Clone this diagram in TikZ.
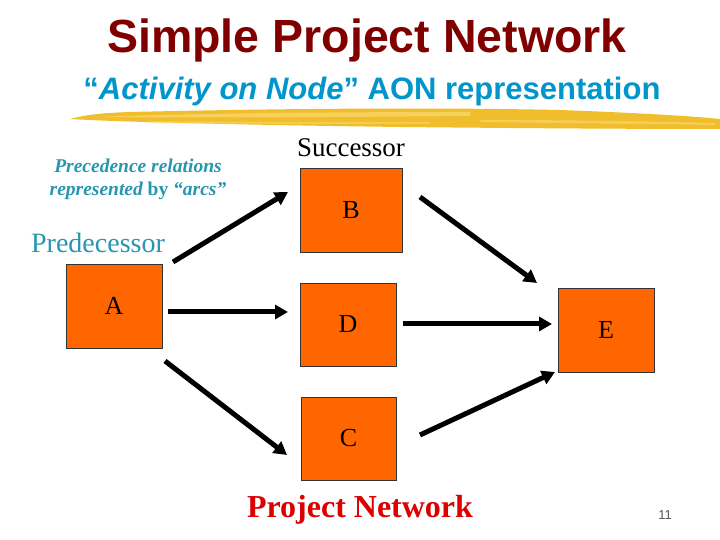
\documentclass[tikz,border=0pt]{standalone}
\usepackage{fontspec}
\setmainfont{Liberation Serif}
\newfontfamily\arialf{Liberation Sans}
\usetikzlibrary{arrows.meta}
\definecolor{titlered}{RGB}{128,0,0}
\definecolor{subblue}{RGB}{0,150,204}
\definecolor{tealtxt}{RGB}{40,150,176}
\definecolor{boxorange}{RGB}{255,102,0}
\definecolor{pnred}{RGB}{220,0,0}
\definecolor{brushy}{RGB}{240,190,45}
\definecolor{brushl}{RGB}{250,218,110}
\tikzset{
  actbox/.style={draw=black!80, line width=0.8pt, fill=boxorange, inner sep=0pt,
    font=\fontsize{26}{28}\selectfont},
  arc/.style={line width=5pt, -{Triangle[length=13pt,width=14pt]}},
}
\begin{document}
\begin{tikzpicture}[x=1pt,y=1pt]
\useasboundingbox (0,0) rectangle (720,540);
\fill[white] (0,0) rectangle (720,540);
% brush stroke
\fill[brushy] (70,421) .. controls (85,425) and (100,427) .. (130,428)
  .. controls (260,431) and (420,433) .. (560,430)
  .. controls (640,427) and (690,424) .. (720,421)
  -- (720,411) .. controls (620,411) and (500,412) .. (400,413)
  .. controls (250,415) and (120,418) .. (70,421) -- cycle;
\fill[brushl, opacity=0.7] (95,423) .. controls (200,427) and (350,428) .. (470,428)
  -- (470,424) .. controls (350,423) and (200,422) .. (95,423) -- cycle;
\fill[brushl, opacity=0.6] (480,420) .. controls (560,420) and (640,419) .. (715,417)
  -- (715,415) .. controls (640,416) and (560,417) .. (480,418) -- cycle;
\fill[brushl, opacity=0.5] (150,417) .. controls (250,416) and (350,416) .. (430,416)
  -- (430,418) .. controls (350,418) and (250,418) .. (150,419) -- cycle;
% titles
\node[font=\arialf\bfseries\fontsize{46.5}{50}\selectfont, text=titlered, anchor=base] (title) at (367,487) {Simple Project Network};
\node[font=\arialf\bfseries\fontsize{31}{34}\selectfont, text=subblue, anchor=base] (sub) at (372,440) {“\textit{Activity on Node}” AON representation};
% side texts
\node[font=\bfseries\fontsize{19.5}{23}\selectfont, text=tealtxt, align=center] (prec) at (138,361) {\itshape Precedence relations\\ \itshape represented \upshape by \itshape “arcs”};
\node[font=\fontsize{27}{30}\selectfont] (succ) at (351,392) {Successor};
\node[font=\fontsize{28}{30}\selectfont, text=tealtxt] (pred) at (98,297) {Predecessor};
% boxes
\node[actbox, minimum width=96pt, minimum height=84pt] (A) at (114,234) {A};
\node[actbox, minimum width=102pt, minimum height=84pt] (B) at (351,330) {B};
\node[actbox, minimum width=96pt, minimum height=83pt] (D) at (348,215.5) {D};
\node[actbox, minimum width=95pt, minimum height=83pt] (C) at (348.5,101.5) {C};
\node[actbox, minimum width=96pt, minimum height=84pt] (E) at (606,210) {E};
% connector endpoints
\coordinate (ab1) at (173,278); \coordinate (ab2) at (288,348);
\coordinate (ad1) at (168,228); \coordinate (ad2) at (288,228);
\coordinate (ac1) at (165,179); \coordinate (ac2) at (287,85);
\coordinate (be1) at (420,343); \coordinate (be2) at (537,257);
\coordinate (de1) at (403,216); \coordinate (de2) at (552,216);
\coordinate (ce1) at (420,105); \coordinate (ce2) at (555,168);
\draw[arc] (ab1) -- (ab2);
\draw[arc] (ad1) -- (ad2);
\draw[arc] (ac1) -- (ac2);
\draw[arc] (be1) -- (be2);
\draw[arc] (de1) -- (de2);
\draw[arc] (ce1) -- (ce2);
% footer
\node[font=\bfseries\fontsize{32}{34}\selectfont, text=pnred] (pn) at (360,30) {Project Network};
\node[font=\arialf\fontsize{13}{15}\selectfont, text=black!65] (pg) at (665,25) {11};
\end{tikzpicture}
\end{document}
